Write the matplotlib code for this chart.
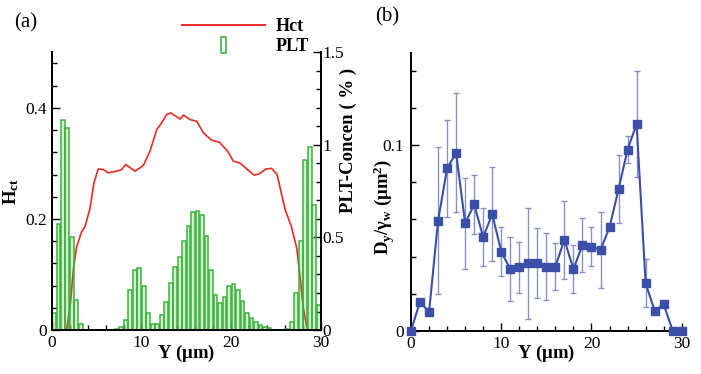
import numpy as np
import matplotlib
matplotlib.use("Agg")
import matplotlib.pyplot as plt
from matplotlib.lines import Line2D
from matplotlib.ticker import MultipleLocator

plt.rcParams['font.family'] = ['Liberation Serif', 'DejaVu Serif']
plt.rcParams['mathtext.fontset'] = 'custom'
plt.rcParams['mathtext.rm'] = 'Liberation Serif:bold'
plt.rcParams['mathtext.it'] = 'Liberation Serif:bold'
plt.rcParams['mathtext.bf'] = 'Liberation Serif:bold'

# panel (a): hematocrit profile
hct_y = [1.67, 2.1, 2.41, 2.78, 3.34, 3.71, 4.27, 4.71, 5.19, 5.75, 6.3, 7.24, 7.8,
         8.24, 9.28, 10.2, 10.95, 11.7, 12.25, 12.8, 13.25, 14.3, 14.7, 15.4, 16.15,
         16.9, 17.8, 18.7, 19.6, 20.24, 20.95, 21.8, 22.55, 23.1, 23.85, 24.5, 25.1,
         25.6, 26.0, 26.7, 27.3, 27.66, 28.0, 28.4, 28.6]
hct = [0.0, 0.05, 0.108, 0.150, 0.177, 0.186, 0.219, 0.265, 0.290, 0.289, 0.283, 0.286,
       0.289, 0.298, 0.286, 0.296, 0.322, 0.361, 0.373, 0.388, 0.391, 0.380, 0.387, 0.379,
       0.376, 0.355, 0.342, 0.338, 0.322, 0.304, 0.301, 0.289, 0.279, 0.281, 0.290, 0.291,
       0.280, 0.245, 0.217, 0.186, 0.147, 0.096, 0.042, 0.006, 0.0]

# platelet concentration (%) in 0.5 um bins
plt_edges = np.arange(0, 30, 0.5)
plt_conc = [0.09, 0.573, 1.135, 1.09, 0.50, 0.162, 0.032, 0, 0, 0, 0, 0, 0, 0,
            0.007, 0.018, 0.054, 0.216, 0.324, 0.335, 0.24, 0.09, 0.032, 0.032, 0.08,
            0.153, 0.256, 0.342, 0.396, 0.483, 0.56, 0.636, 0.641, 0.62, 0.508, 0.324,
            0.19, 0.144, 0.18, 0.238, 0.247, 0.216, 0.159, 0.09, 0.063, 0.045, 0.027,
            0.018, 0.011, 0, 0, 0, 0.004, 0.045, 0.2, 0.48, 0.92, 0.99, 0.675, 0.135]

# panel (b): dispersion coefficient
d_y = np.arange(0, 31)
d_val = [0, 0.0157, 0.0099, 0.0593, 0.0877, 0.0959, 0.058, 0.0681, 0.0505, 0.0629,
         0.0427, 0.0332, 0.0341, 0.0364, 0.0364, 0.0346, 0.0346, 0.049, 0.0332, 0.0463,
         0.0454, 0.0436, 0.0557, 0.0764, 0.0977, 0.1115, 0.0256, 0.0108, 0.0142, 0, 0]
d_err = [0, 0, 0, 0.0397, 0.0262, 0.0321, 0.0246, 0.016, 0.0157, 0.0253, 0.0133,
         0.0172, 0.0138, 0.0299, 0.0189, 0.018, 0.0126, 0.0212, 0.0129, 0.0144, 0.0107,
         0.0207, 0, 0.0185, 0.0072, 0.0286, 0.013, 0, 0, 0, 0]

red = '#ec2a24'
green = '#3cb23c'
blue = '#3b4fa8'
LAB = 13.5
TICK = 12.5

fig = plt.figure(figsize=(7.01, 3.74), dpi=100)

def style(ax, spines):
    for s in ['top', 'right', 'left', 'bottom']:
        ax.spines[s].set_visible(s in spines)
        ax.spines[s].set_linewidth(1.4)
    ax.tick_params(which='both', direction='in', labelsize=TICK, width=1.0)
    ax.tick_params(which='major', length=6)
    ax.tick_params(which='minor', length=3.5)

ax1 = fig.add_axes([0.0737, 0.1176, 0.3843, 0.7424])
ax1.plot(hct_y, hct, color=red, lw=1.2, zorder=1)
ax1.set_xlim(0, 30)
ax1.set_ylim(0, 0.5)
ax1.xaxis.set_major_locator(MultipleLocator(10))
ax1.xaxis.set_minor_locator(MultipleLocator(2))
ax1.yaxis.set_minor_locator(MultipleLocator(0.04))
ax1.set_yticks([0, 0.2, 0.4])
ax1.set_yticklabels(['0', '0.2', '0.4'])
style(ax1, ['left', 'bottom', 'right'])
ax1.tick_params(right=False, which='both')
ax1.set_xlabel(r'Y ($\mu$m)', fontsize=LAB, fontweight='bold')
ax1.set_ylabel(r'H$_{\mathregular{ct}}$', fontsize=LAB, fontweight='bold')
ax1.xaxis.set_label_coords(0.5, -0.045)
ax1.yaxis.set_label_coords(-0.115, 0.5)

ax2 = ax1.twinx()
ax2.bar(plt_edges + 0.25, plt_conc, width=0.42, facecolor=(0.24, 0.70, 0.24, 0.22),
        edgecolor=green, linewidth=1.1, zorder=2)
ax2.set_ylim(0, 1.5)
ax2.yaxis.set_minor_locator(MultipleLocator(0.1))
ax2.set_yticks([0, 0.5, 1, 1.5])
ax2.set_yticklabels(['0', '0.5', '1', '1.5'])
style(ax2, ['left', 'bottom', 'right'])
ax2.tick_params(left=False, which='both')
ax2.tick_params(axis='y', pad=1)
ax2.set_ylabel('PLT-Concen ( % )', fontsize=LAB, fontweight='bold')
ax2.yaxis.set_label_coords(1.068, 0.684)

h_line = Line2D([], [], color=red, lw=1.4)
h_bar = Line2D([], [], ls='none', marker=[(-0.3, -1), (0.3, -1), (0.3, 1), (-0.3, 1), (-0.3, -1)],
               markersize=12, markerfacecolor='white', markeredgecolor=green, markeredgewidth=1.2)
leg = fig.legend([h_line, h_bar], ['Hct', 'PLT'], loc='upper left',
                 bbox_to_anchor=(0.236, 0.995), frameon=False, handlelength=4.6,
                 handletextpad=0.6, labelspacing=0.15, numpoints=1,
                 prop={'weight': 'bold', 'size': 13})
fig.text(0.020, 0.94, '(a)', fontsize=15, va='center')

ax3 = fig.add_axes([0.5863, 0.1158, 0.3862, 0.7433])
ax3.errorbar(d_y, d_val, yerr=d_err, fmt='none', ecolor='#8a90c6', elinewidth=1.0,
             capsize=2.5, capthick=1.0, zorder=2)
ax3.plot(d_y, d_val, color=blue, lw=1.5, marker='s', markersize=5.2, zorder=3, clip_on=False)
ax3.set_xlim(0, 30)
ax3.set_ylim(0, 0.15)
ax3.xaxis.set_major_locator(MultipleLocator(10))
ax3.xaxis.set_minor_locator(MultipleLocator(2))
ax3.set_yticks([0, 0.1])
ax3.set_yticklabels(['0', '0.1'])
ax3.yaxis.set_minor_locator(MultipleLocator(0.02))
style(ax3, ['left', 'bottom'])
ax3.tick_params(axis='y', pad=5)
ax3.set_xlabel(r'Y ($\mu$m)', fontsize=LAB, fontweight='bold')
ax3.set_ylabel(r'D$_{\mathregular{y}}$/$\gamma_{\mathregular{w}}$ ($\mu$m$^{\mathregular{2}}$)',
               fontsize=LAB, fontweight='bold')
ax3.xaxis.set_label_coords(0.5, -0.045)
ax3.yaxis.set_label_coords(-0.05, 0.445)
fig.text(0.535, 0.955, '(b)', fontsize=15, va='center')

fig.savefig('out.png', dpi=100)
